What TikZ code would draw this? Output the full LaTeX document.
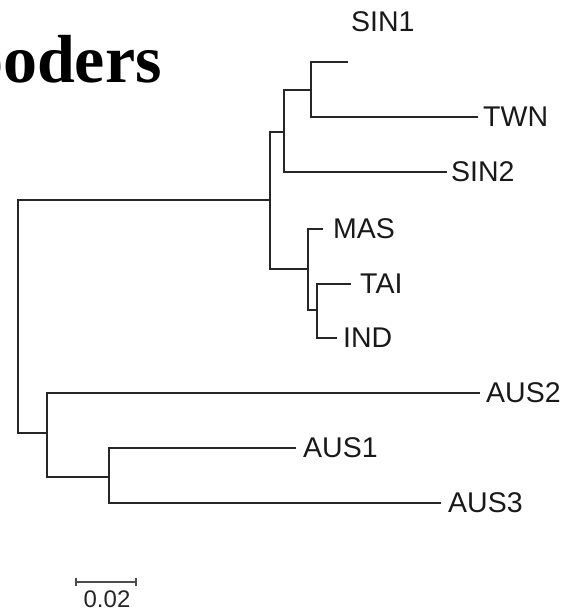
\documentclass[tikz,border=0pt]{standalone}
\usepackage{fontspec}
\setmainfont{Liberation Serif}
\newfontfamily\labfont{Liberation Sans}
\tikzset{
  branch/.style={line width=1.9pt, draw=black!85, line cap=rect},
  leaf/.style={anchor=west, inner sep=0pt, font=\labfont\fontsize{28.5}{28.5}\selectfont, text=black!90},
  scalebar/.style={line width=1.4pt, draw=black!70},
}
\begin{document}
\begin{tikzpicture}[x=1pt,y=-1pt]
\useasboundingbox (0,0) rectangle (565,613);
\clip (0,0) rectangle (565,613);
% title fragment
\node[anchor=base east, inner sep=0pt, font=\bfseries\fontsize{68}{68}\selectfont] (title) at (162,82) {ooders};
% internal nodes
\coordinate (r) at (18,433);
\coordinate (u) at (270,200);
\coordinate (s) at (284,132);
\coordinate (st) at (311,90);
\coordinate (m) at (308,269);
\coordinate (ti) at (317,310);
\coordinate (a) at (47,433);
\coordinate (b) at (109,477);
% tips
\coordinate (tSIN1) at (347,62);
\coordinate (tTWN) at (477,117);
\coordinate (tSIN2) at (446,172);
\coordinate (tMAS) at (322,229);
\coordinate (tTAI) at (350,284);
\coordinate (tIND) at (336,338);
\coordinate (tAUS2) at (479,393);
\coordinate (tAUS1) at (295,448);
\coordinate (tAUS3) at (440,503);
% branches
\draw[branch] (r) |- (u);
\draw[branch] (r) |- (a);
\draw[branch] (u) |- (s);
\draw[branch] (u) |- (m);
\draw[branch] (s) |- (st);
\draw[branch] (s) |- (tSIN2);
\draw[branch] (st) |- (tSIN1);
\draw[branch] (st) |- (tTWN);
\draw[branch] (m) |- (tMAS);
\draw[branch] (m) |- (ti);
\draw[branch] (ti) |- (tTAI);
\draw[branch] (ti) |- (tIND);
\draw[branch] (a) |- (tAUS2);
\draw[branch] (a) |- (b);
\draw[branch] (b) |- (tAUS1);
\draw[branch] (b) |- (tAUS3);
% labels
\node[leaf] (lSIN1) at (351,22) {SIN1};
\node[leaf] (lTWN) at ([xshift=6pt]tTWN) {TWN};
\node[leaf] (lSIN2) at ([xshift=5pt]tSIN2) {SIN2};
\node[leaf] (lMAS) at ([xshift=11pt]tMAS) {MAS};
\node[leaf] (lTAI) at ([xshift=10pt]tTAI) {TAI};
\node[leaf] (lIND) at ([xshift=7pt]tIND) {IND};
\node[leaf] (lAUS2) at ([xshift=7pt]tAUS2) {AUS2};
\node[leaf] (lAUS1) at ([xshift=8pt]tAUS1) {AUS1};
\node[leaf] (lAUS3) at ([xshift=8pt]tAUS3) {AUS3};
% scale bar
\coordinate (sb1) at (76,582);
\coordinate (sb2) at (136,582);
\draw[scalebar] (sb1) -- (sb2);
\draw[scalebar] ([yshift=-4pt]sb1) -- ([yshift=4pt]sb1);
\draw[scalebar] ([yshift=-4pt]sb2) -- ([yshift=4pt]sb2);
\node[inner sep=0pt, font=\labfont\fontsize{24}{24}\selectfont, text=black!85] (sbl) at (107,599) {0.02};
\end{tikzpicture}
\end{document}
